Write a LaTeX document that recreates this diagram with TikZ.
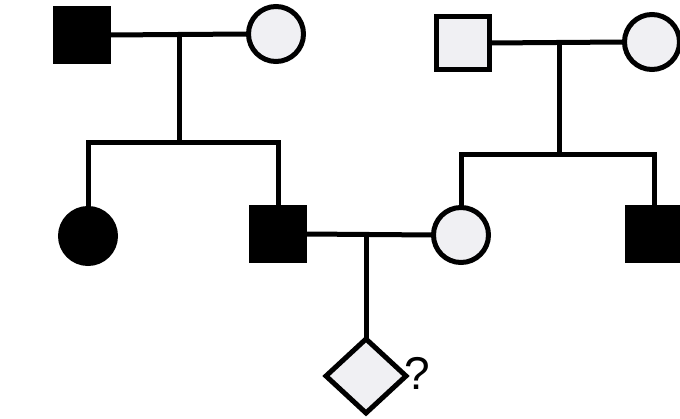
\documentclass[tikz,border=0pt]{standalone}
\usepackage{fontspec}
\setmainfont{Liberation Sans}
\usetikzlibrary{shapes.geometric}
\definecolor{unaff}{HTML}{F0F0F3}
\tikzset{
  x=1pt,y=-1pt,
  sym/.style={draw=black,line width=5pt,inner sep=0pt,outer sep=0pt},
  male/.style={sym,rectangle,minimum width=53pt,minimum height=53pt},
  female/.style={sym,circle,minimum size=55pt},
  affected/.style={fill=black},
  normal/.style={fill=unaff},
  link/.style={line width=5pt,draw=black},
}
\begin{document}
\begin{tikzpicture}
\useasboundingbox (0,0) rectangle (680,419);
\clip (0,0) rectangle (680,419);
\fill[white] (0,0) rectangle (680,419);
% generation I
\node[male,affected] (m1) at (82,35) {};
\node[female,normal] (f1) at (276,34) {};
\node[male,normal] (m2) at (463,43) {};
\node[female,normal] (f2) at (652,42) {};
% generation II
\node[female,affected] (d1) at (88,236) {};
\node[male,affected] (s1) at (278,234) {};
\node[female,normal] (d2) at (461,235) {};
\node[male,affected] (s2) at (654,234) {};
% generation III
\node[sym,diamond,normal,minimum width=80pt,minimum height=74pt] (c) at (366,376) {};
\node[font=\fontsize{46}{46}\selectfont,inner sep=0pt,anchor=west] (q) at (404,373) {?};
% marriage lines
\coordinate (mA) at (179,34);
\coordinate (mB) at (559,42);
\coordinate (mC) at (366,235);
\draw[link] (m1.east) -- (f1.west);
\draw[link] (m2.east) -- (f2.west);
\draw[link] (s1.east) -- (d2.west);
% sibship left
\coordinate (sA) at (179,143);
\coordinate (sAl) at (88,143);
\coordinate (sAr) at (278,143);
\draw[link] (mA) -- (sA);
\draw[link,line cap=rect] (sAl) -- (sAr);
\draw[link] (sAl) -- (d1.north);
\draw[link] (sAr) -- (s1.north);
% sibship right
\coordinate (sB) at (559,155);
\coordinate (sBl) at (461,155);
\coordinate (sBr) at (654,155);
\draw[link] (mB) -- (sB);
\draw[link,line cap=rect] (sBl) -- (sBr);
\draw[link] (sBl) -- (d2.north);
\draw[link] (sBr) -- (s2.north);
% child
\draw[link] (mC) -- (c.north);
\end{tikzpicture}
\end{document}
